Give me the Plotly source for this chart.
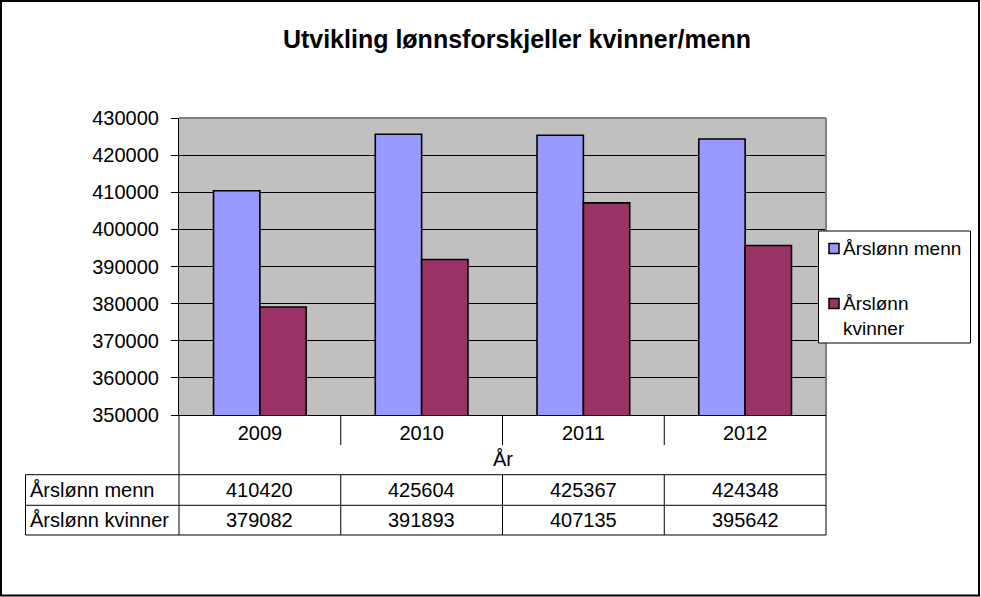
import plotly.graph_objects as go

years = ["2009", "2010", "2011", "2012"]
menn = [410420, 425604, 425367, 424348]
kvinner = [379082, 391893, 407135, 395642]
series_names = ["Årslønn menn", "Årslønn kvinner"]
legend_labels = ["Årslønn menn", "Årslønn<br>kvinner"]
colors = ["#9999FF", "#993366"]
title = "Utvikling lønnsforskjeller kvinner/menn"
x_title = "År"
y_range = [350000, 430000]
y_dtick = 10000

FONT = "Arial, 'Liberation Sans', sans-serif"

fig = go.Figure()
for name, vals, col in zip(series_names, [menn, kvinner], colors):
    fig.add_trace(go.Bar(
        x=years, y=vals, name=name,
        marker=dict(color=col, line=dict(color="black", width=1.6)),
        showlegend=False,
    ))

# pixel -> paper helpers (plot area: x 179..826, y 118..415)
L, R, T, B = 179, 826, 118, 415
def px(x):
    return (x - L) / (R - L)
def py(y):
    return (B - y) / (B - T)

shapes = []
line_k = dict(color="black", width=1)
# outer border
shapes.append(dict(type="rect", xref="paper", yref="paper",
                   x0=px(1), x1=px(979), y0=py(1), y1=py(595.5),
                   line=dict(color="black", width=2), layer="below"))
# plot area top & right border (grey)
shapes.append(dict(type="line", xref="paper", yref="paper", x0=0, x1=1, y0=1, y1=1,
                   line=dict(color="#808080", width=2)))
shapes.append(dict(type="line", xref="paper", yref="paper", x0=1, x1=1, y0=0, y1=1,
                   line=dict(color="#808080", width=2)))
# category separators below axis
for i in range(len(years) - 1):
    shapes.append(dict(type="line", xref="x", yref="paper", x0=i + 0.5, x1=i + 0.5,
                       y0=0, y1=py(445), line=line_k))
    shapes.append(dict(type="line", xref="x", yref="paper", x0=i + 0.5, x1=i + 0.5,
                       y0=py(474.7), y1=py(535), line=line_k))
# outer vertical lines of category/table area
for xp in (0, 1):
    shapes.append(dict(type="line", xref="paper", yref="paper", x0=xp, x1=xp,
                       y0=0, y1=py(535), line=line_k))
shapes.append(dict(type="line", xref="paper", yref="paper", x0=px(25.5), x1=px(25.5),
                   y0=py(474.7), y1=py(535), line=line_k))
# table horizontal lines
for yy in (474.7, 505.3, 535):
    shapes.append(dict(type="line", xref="paper", yref="paper", x0=px(25.5), x1=1,
                       y0=py(yy), y1=py(yy), line=line_k))

# custom legend
shapes.append(dict(type="rect", xref="paper", yref="paper",
                   x0=px(818.5), x1=px(970.5), y0=py(231), y1=py(343),
                   fillcolor="white", line=dict(color="black", width=1), layer="above"))
leg_centers = [248.5, 303.5]
for col, yc in zip(colors, leg_centers):
    shapes.append(dict(type="rect", xref="paper", yref="paper",
                       x0=px(829), x1=px(839), y0=py(yc - 5), y1=py(yc + 5),
                       fillcolor=col, line=dict(color="black", width=1.5), layer="above"))

annotations = []
for lab, yc in zip(legend_labels, leg_centers):
    annotations.append(dict(xref="paper", yref="paper", x=px(841), y=py(yc - 12.5),
                            xanchor="left", yanchor="top", align="left", showarrow=False,
                            text=lab, font=dict(family=FONT, size=19, color="black")))

# x axis title
annotations.append(dict(xref="paper", yref="paper", x=0.5, y=py(459), xanchor="center",
                        yanchor="middle", showarrow=False, text=x_title,
                        font=dict(family=FONT, size=20, color="black")))
# data table
for name, vals, yc in zip(series_names, [menn, kvinner], [490, 520.2]):
    annotations.append(dict(xref="paper", yref="paper", x=px(28), y=py(yc),
                            xanchor="left", yanchor="middle", showarrow=False, text=name,
                            font=dict(family=FONT, size=20, color="black")))
    for i, v in enumerate(vals):
        annotations.append(dict(xref="x", yref="paper", x=i, y=py(yc),
                                xanchor="center", yanchor="middle", showarrow=False,
                                text=str(v), font=dict(family=FONT, size=20, color="black")))

fig.update_layout(
    width=981, height=597,
    margin=dict(l=L, r=981 - R, t=T, b=597 - B, autoexpand=False),
    paper_bgcolor="white", plot_bgcolor="#C0C0C0",
    barmode="group", bargap=0.427, bargroupgap=0,
    title=dict(text="<b>" + title + "</b>", xref="container", yref="container",
               x=0.527, xanchor="center", y=0.935, yanchor="middle",
               font=dict(family=FONT, size=25, color="black")),
    xaxis=dict(type="category", range=[-0.5, 3.5], showgrid=False, ticks="",
               showline=True, linecolor="black", linewidth=1,
               tickfont=dict(family=FONT, size=20, color="black"), automargin=False),
    yaxis=dict(range=y_range, dtick=y_dtick, showgrid=True, gridcolor="black", gridwidth=1,
               ticks="outside", ticklen=7, tickcolor="black", showline=True,
               linecolor="black", linewidth=1, tickformat="d", ticklabelstandoff=8,
               tickfont=dict(family=FONT, size=20, color="black"), zeroline=False,
               automargin=False),
    shapes=shapes, annotations=annotations,
    showlegend=False,
)

fig.write_html("out.html")
